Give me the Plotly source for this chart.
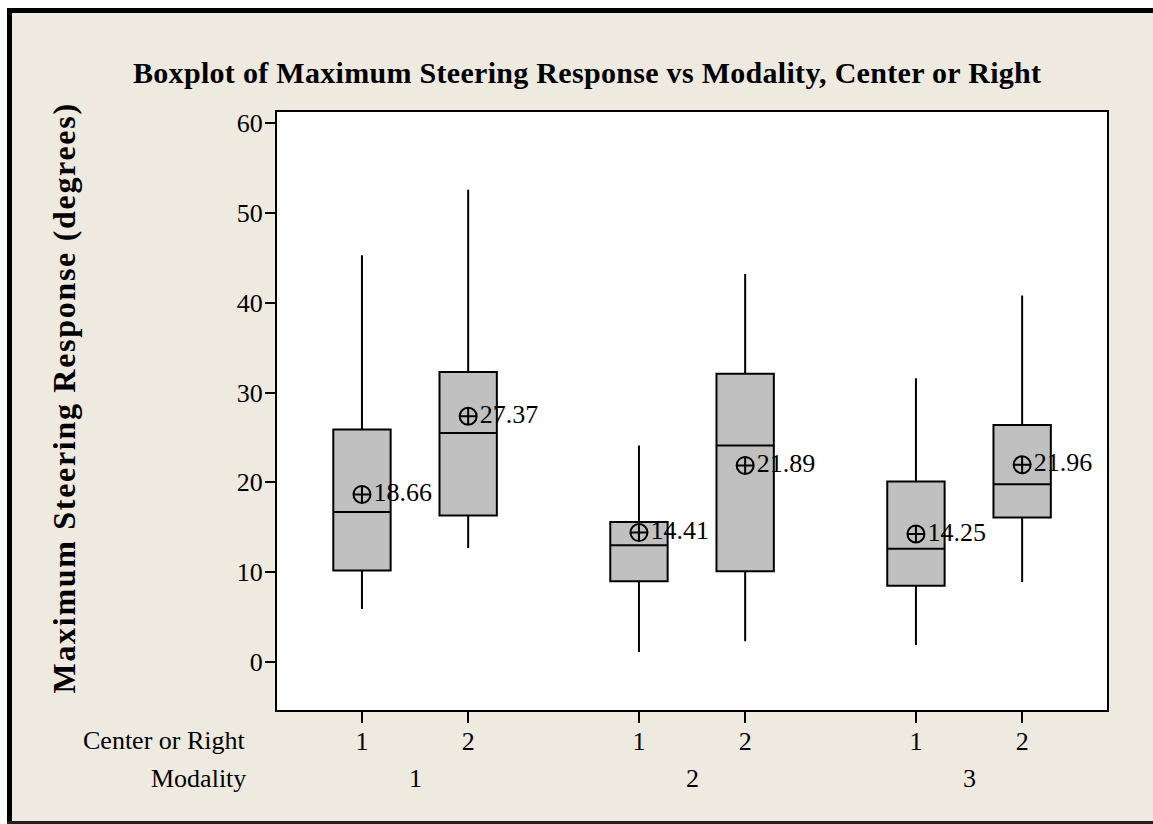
import plotly.graph_objects as go

# ---------------- data ----------------
modality = [1, 1, 2, 2, 3, 3]
center_or_right = [1, 2, 1, 2, 1, 2]
lower_whisker = [5.9, 12.7, 1.1, 2.3, 1.9, 8.9]
q1 = [10.2, 16.3, 9.0, 10.1, 8.5, 16.1]
median = [16.7, 25.5, 13.0, 24.1, 12.6, 19.8]
q3 = [25.9, 32.3, 15.6, 32.1, 20.1, 26.4]
upper_whisker = [45.3, 52.6, 24.1, 43.2, 31.6, 40.8]
means = [18.66, 27.37, 14.41, 21.89, 14.25, 21.96]
modality_labels = ["1", "2", "3"]
y_ticks = [0, 10, 20, 30, 40, 50, 60]

# ---------------- layout helpers ----------------
W, H = 1153, 824
L, R, T, B = 277, 1107, 112, 710          # plot area in pixels
GROUP_STEP = 2.608
positions = [(m - 1) * GROUP_STEP + (c - 1) for m, c in zip(modality, center_or_right)]

def px2x(px):
    return (px - L) / (R - L)

def py2y(py):
    return (B - py) / (B - T)

FONT = "Liberation Serif, Times New Roman, serif"
BEIGE = "#EEEAE0"

fig = go.Figure()

fig.add_trace(go.Box(
    x=positions, q1=q1, median=median, q3=q3,
    lowerfence=lower_whisker, upperfence=upper_whisker,
    width=0.54, whiskerwidth=0, boxpoints=False,
    fillcolor="#C0C0C0", line=dict(color="black", width=2),
    showlegend=False, hoverinfo="skip",
))

fig.add_trace(go.Scatter(
    x=positions, y=means, mode="markers+text",
    text=[f"{m:.2f}" for m in means], textposition="middle right",
    textfont=dict(family=FONT, size=26, color="black"),
    marker=dict(symbol="circle-cross-open", size=17, color="black",
                line=dict(color="black", width=2)),
    showlegend=False, hoverinfo="skip",
))

annotations = []
# modality group labels
for i, lab in enumerate(modality_labels):
    xs = [p for p, m in zip(positions, modality) if m == i + 1]
    annotations.append(dict(
        x=sum(xs) / len(xs), xref="x", y=py2y(778), yref="paper",
        text=lab, showarrow=False, xanchor="center", yanchor="middle",
        font=dict(family=FONT, size=26, color="black")))
# row titles
annotations.append(dict(x=px2x(248), xref="paper", y=py2y(740), yref="paper",
                        text="Center or Right", showarrow=False, xanchor="right",
                        yanchor="middle", font=dict(family=FONT, size=26, color="black")))
annotations.append(dict(x=px2x(248), xref="paper", y=py2y(778), yref="paper",
                        text="Modality", showarrow=False, xanchor="right",
                        yanchor="middle", font=dict(family=FONT, size=26, color="black")))
# title
annotations.append(dict(x=px2x(586.5), xref="paper", y=py2y(72.5), yref="paper",
                        text='<span style="letter-spacing:0.3px">Boxplot of Maximum Steering Response vs Modality, Center or Right</span>',
                        showarrow=False, xanchor="center", yanchor="middle",
                        font=dict(family=FONT, size=30, color="black", weight="bold")))
# y-axis title
annotations.append(dict(x=px2x(63), xref="paper", y=py2y(397.5), yref="paper",
                        text='<span style="letter-spacing:1.7px">Maximum Steering Response (degrees)</span>',
                        showarrow=False, textangle=-90, xanchor="center", yanchor="middle",
                        font=dict(family=FONT, size=32, color="black", weight="bold")))

shapes = [
    # white margin outside the frame (left and top)
    dict(type="rect", xref="paper", yref="paper", x0=px2x(-5), x1=px2x(7),
         y0=py2y(830), y1=py2y(-5), fillcolor="white", line=dict(width=0), layer="below"),
    dict(type="rect", xref="paper", yref="paper", x0=px2x(-5), x1=px2x(1160),
         y0=py2y(8), y1=py2y(-5), fillcolor="white", line=dict(width=0), layer="below"),
    # frame lines
    dict(type="line", xref="paper", yref="paper", x0=px2x(9.5), x1=px2x(9.5),
         y0=py2y(8), y1=py2y(824), line=dict(color="black", width=5)),
    dict(type="line", xref="paper", yref="paper", x0=px2x(7), x1=px2x(1160),
         y0=py2y(10.5), y1=py2y(10.5), line=dict(color="black", width=5)),
    dict(type="line", xref="paper", yref="paper", x0=px2x(7), x1=px2x(1160),
         y0=py2y(822.5), y1=py2y(822.5), line=dict(color="#222222", width=3)),
]

fig.update_layout(
    width=W, height=H,
    margin=dict(l=L, r=W - R, t=T, b=H - B, pad=0),
    paper_bgcolor=BEIGE, plot_bgcolor="white",
    annotations=annotations, shapes=shapes,
    showlegend=False,
    font=dict(family=FONT, color="black"),
)

fig.update_xaxes(
    range=[-0.80, 7.015],
    tickvals=positions, ticktext=[str(c) for c in center_or_right],
    ticks="outside", ticklen=11, tickwidth=2, tickcolor="black",
    showline=True, mirror=True, linecolor="black", linewidth=2,
    showgrid=False, zeroline=False, ticklabelstandoff=-4,
    tickfont=dict(family=FONT, size=26, color="black"),
)
fig.update_yaxes(
    range=[-5.35, 61.25],
    tickvals=y_ticks, ticktext=[str(v) for v in y_ticks],
    ticks="outside", ticklen=10, tickwidth=2, tickcolor="black",
    showline=True, mirror=True, linecolor="black", linewidth=2,
    showgrid=False, zeroline=False, ticklabelstandoff=-3,
    tickfont=dict(family=FONT, size=26, color="black"),
)

fig.write_html(
    "out.html",
    config={"displayModeBar": False},
    post_script="document.body.style.margin='0';document.body.style.overflow='hidden';",
)
